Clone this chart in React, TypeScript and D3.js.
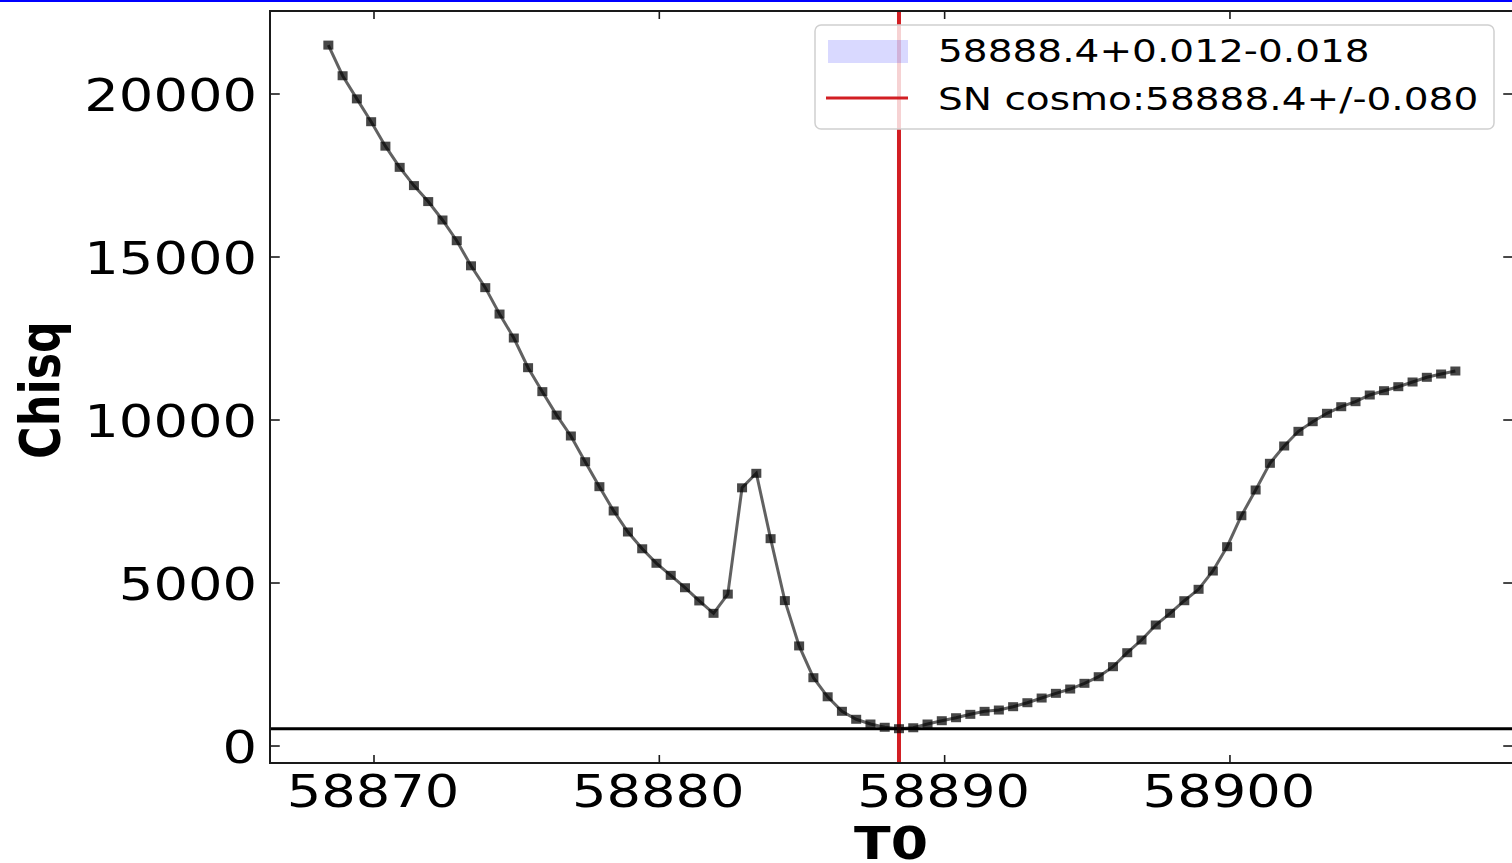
import React from "react";
import * as d3 from "d3";

const t0Values: number[] = [
  58868.4, 58868.9, 58869.4, 58869.9, 58870.4, 58870.9, 58871.4, 58871.9, 58872.4, 58872.9,
  58873.4, 58873.9, 58874.4, 58874.9, 58875.4, 58875.9, 58876.4, 58876.9, 58877.4, 58877.9,
  58878.4, 58878.9, 58879.4, 58879.9, 58880.4, 58880.9, 58881.4, 58881.9, 58882.4, 58882.9,
  58883.4, 58883.9, 58884.4, 58884.9, 58885.4, 58885.9, 58886.4, 58886.9, 58887.4, 58887.9,
  58888.4, 58888.9, 58889.4, 58889.9, 58890.4, 58890.9, 58891.4, 58891.9, 58892.4, 58892.9,
  58893.4, 58893.9, 58894.4, 58894.9, 58895.4, 58895.9, 58896.4, 58896.9, 58897.4, 58897.9,
  58898.4, 58898.9, 58899.4, 58899.9, 58900.4, 58900.9, 58901.4, 58901.9, 58902.4, 58902.9,
  58903.4, 58903.9, 58904.4, 58904.9, 58905.4, 58905.9, 58906.4, 58906.9, 58907.4, 58907.9,
];

const chisqValues: number[] = [
  21500, 20560, 19850, 19150, 18400, 17750, 17190, 16700, 16135, 15500,
  14730, 14060, 13250, 12515, 11605, 10870, 10150, 9510, 8720, 7955,
  7210, 6565, 6050, 5605, 5235, 4855, 4450, 4070, 4660, 7920,
  8365, 6360, 4460, 3070, 2095, 1510, 1065, 820, 675, 575,
  531, 560, 675, 776, 868, 972, 1064, 1104, 1206, 1328,
  1472, 1616, 1748, 1923, 2126, 2433, 2862, 3252, 3712, 4071,
  4457, 4807, 5368, 6114, 7064, 7853, 8672, 9203, 9653, 9948,
  10206, 10408, 10562, 10767, 10899, 11022, 11166, 11310, 11411, 11503,
];

const xTicks: number[] = [58870, 58880, 58890, 58900];
const yTicks: number[] = [0, 5000, 10000, 15000, 20000];

const minChisq = 531;
const bestT0 = 58888.4;
const errPlus = 0.012;
const errMinus = 0.018;
const legendLabels: string[] = ["58888.4+0.012-0.018", "SN cosmo:58888.4+/-0.080"];
const xLabel = "T0";
const yLabel = "Chisq";

const W = 1512;
const H = 863;
const left = 270;
const right = 1513;
const top = 11;
const bottom = 763;
const SX = 1.22;
const FONT = "'DejaVu Sans', sans-serif";

export default function App() {
  const x = d3.scaleLinear().domain([58866.355, 58909.92]).range([left, right]);
  const y = d3.scaleLinear().domain([-521, 22546]).range([bottom, top]);
  const pts = t0Values.map((t, i) => [t, chisqValues[i]] as [number, number]);
  const line = d3
    .line<[number, number]>()
    .x((d) => x(d[0]))
    .y((d) => y(d[1]));

  const red = "#d21e23";
  const tickLen = 8;

  return (
    <svg
      width={W}
      height={H}
      style={{ position: "absolute", left: 0, top: 0, background: "#fff" }}
    >
      <rect x={0} y={0} width={W} height={H} fill="#fff" />
      <rect x={0} y={0} width={W} height={2} fill="#0000ff" />
      <defs>
        <clipPath id="plotclip">
          <rect x={left} y={top} width={right - left} height={bottom - top} />
        </clipPath>
      </defs>

      <g clipPath="url(#plotclip)">
        <rect
          x={x(bestT0 - errMinus)}
          y={top}
          width={Math.max(1, x(bestT0 + errPlus) - x(bestT0 - errMinus))}
          height={bottom - top}
          fill="#0000ff"
          opacity={0.15}
        />
        <line x1={left} x2={right} y1={y(minChisq)} y2={y(minChisq)} stroke="#000" strokeWidth={3} />
        <line x1={x(bestT0)} x2={x(bestT0)} y1={top} y2={bottom} stroke={red} strokeWidth={4} />
        <path d={line(pts) || ""} fill="none" stroke="#000" strokeOpacity={0.62} strokeWidth={3} />
        {pts.map((d, i) => (
          <rect
            key={i}
            x={x(d[0]) - 5}
            y={y(d[1]) - 4.5}
            width={10}
            height={9}
            fill="#000"
            fillOpacity={0.72}
          />
        ))}
      </g>

      <rect
        x={left}
        y={top}
        width={right - left}
        height={bottom - top}
        fill="none"
        stroke="#1a1a1a"
        strokeWidth={2}
      />

      {xTicks.map((t) => (
        <g key={"xt" + t}>
          <line x1={x(t)} x2={x(t)} y1={bottom} y2={bottom - tickLen} stroke="#1a1a1a" strokeWidth={1.6} />
          <line x1={x(t)} x2={x(t)} y1={top} y2={top + tickLen} stroke="#1a1a1a" strokeWidth={1.6} />
          <text
            transform={`translate(${x(t) - 1},807) scale(${SX},1)`}
            textAnchor="middle"
            fontFamily={FONT}
            fontSize={44.5}
            fill="#000"
          >
            {t}
          </text>
        </g>
      ))}

      {yTicks.map((t) => (
        <g key={"yt" + t}>
          <line x1={left} x2={left + tickLen * SX} y1={y(t)} y2={y(t)} stroke="#1a1a1a" strokeWidth={1.6} />
          <line x1={right - tickLen * SX} x2={right} y1={y(t)} y2={y(t)} stroke="#1a1a1a" strokeWidth={1.6} />
          <text
            transform={`translate(257,${y(t) + 17}) scale(${SX},1)`}
            textAnchor="end"
            fontFamily={FONT}
            fontSize={44.5}
            fill="#000"
          >
            {t}
          </text>
        </g>
      ))}

      <text
        transform={`translate(891,859) scale(${SX},1)`}
        textAnchor="middle"
        fontFamily={FONT}
        fontWeight="bold"
        fontSize={44}
        fill="#000"
      >
        {xLabel}
      </text>
      <text
        transform={`translate(59,390) scale(${SX},1) rotate(-90)`}
        textAnchor="middle"
        fontFamily={FONT}
        fontWeight="bold"
        fontSize={44.5}
        fill="#000"
      >
        {yLabel}
      </text>

      <g>
        <rect
          x={815}
          y={25}
          width={679}
          height={104}
          rx={6}
          fill="#fff"
          fillOpacity={0.8}
          stroke="#d0d0d0"
          strokeWidth={1.5}
        />
        <rect x={828} y={40} width={80} height={23} fill="#0000ff" opacity={0.15} />
        <line x1={826} x2={908} y1={98} y2={98} stroke={red} strokeWidth={3} />
        <text
          transform={`translate(938,62) scale(${SX},1)`}
          fontFamily={FONT}
          fontSize={32}
          fill="#000"
        >
          {legendLabels[0]}
        </text>
        <text
          transform={`translate(938,110) scale(${SX},1)`}
          fontFamily={FONT}
          fontSize={32}
          fill="#000"
        >
          {legendLabels[1]}
        </text>
      </g>
    </svg>
  );
}
